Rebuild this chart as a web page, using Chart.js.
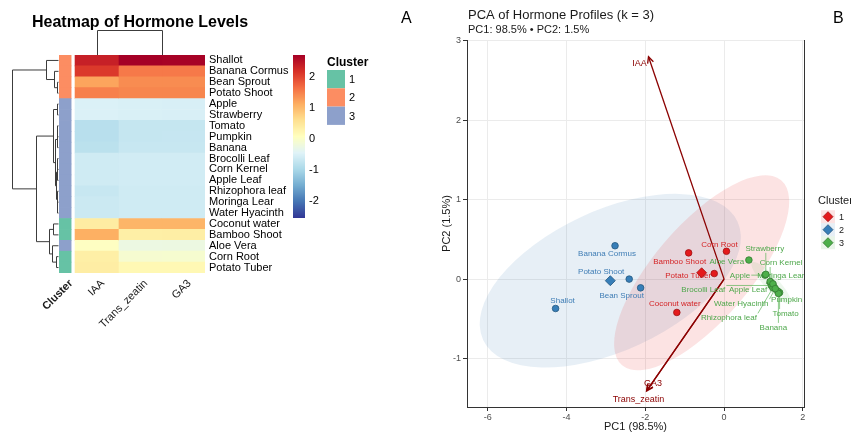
<!DOCTYPE html>
<html>
<head>
<meta charset="utf-8">
<script src="https://cdn.jsdelivr.net/npm/chart.js@4.4.1/dist/chart.umd.min.js"></script>
<style>
  html, body { margin: 0; padding: 0; background: #fff; }
  #wrap { position: relative; width: 851px; height: 434px; overflow: hidden; }
  .box { position: absolute; top: 0; height: 434px; }
</style>
</head>
<body>
<div id="wrap">
  <div class="box" style="left:0;width:400px"><canvas id="heat"></canvas></div>
  <div class="box" style="left:400px;width:451px"><canvas id="pca"></canvas></div>
</div>
<script>
// ---------- heatmap data (scaled hormone levels) ----------
const rowNames = ['Shallot', 'Banana Cormus', 'Bean Sprout', 'Potato Shoot', 'Apple', 'Strawberry',
  'Tomato', 'Pumpkin', 'Banana', 'Brocolli Leaf', 'Corn Kernel', 'Apple Leaf', 'Rhizophora leaf',
  'Moringa Lear', 'Water Hyacinth', 'Coconut water', 'Bamboo Shoot', 'Aloe Vera', 'Corn Root', 'Potato Tuber'];
const hormoneNames = ['IAA', 'Trans_zeatin', 'GA3'];
const iaa = [2.35, 2.1, 1.2, 1.5, -0.5, -0.5, -0.85, -0.85, -0.82, -0.62, -0.62, -0.62, -0.7, -0.66, -0.66,
  0.4, 1.1, 0.05, 0.35, 0.38];
const transZeatin = [2.7, 1.55, 1.4, 1.45, -0.52, -0.52, -0.72, -0.72, -0.7, -0.6, -0.6, -0.6, -0.62, -0.62, -0.62,
  1.05, 0.35, -0.25, -0.08, 0.2];
const ga3 = [2.68, 1.55, 1.4, 1.45, -0.53, -0.53, -0.72, -0.71, -0.7, -0.6, -0.6, -0.6, -0.62, -0.62, -0.62,
  1.05, 0.36, -0.24, -0.07, 0.2];
const rowCluster = [2, 2, 2, 2, 3, 3, 3, 3, 3, 3, 3, 3, 3, 3, 3, 1, 1, 3, 1, 1];
const colorbarTicks = [-2, -1, 0, 1, 2];
const colorRange = [-2.55, 2.7];
// hierarchical clustering merges: [left, right, height]; negative = leaf (1-based), positive = earlier merge
const rowMerges = [
  [-3, -4, 0.1], [-2, 1, 0.4], [-1, 2, 1.2],
  [-5, -6, 0.05], [-7, -8, 0.05], [5, -9, 0.1], [-10, -11, 0.03], [7, -12, 0.06],
  [-14, -15, 0.04], [-13, 9, 0.08], [8, 10, 0.15], [6, 11, 0.3], [4, 12, 0.5],
  [-16, -17, 0.5], [-19, -20, 0.2], [-18, 15, 0.6], [14, 16, 0.9],
  [13, 17, 2.2], [3, 18, 4.6]
];
const colMerges = [[-2, -3, 0.0], [-1, 1, 1.0]];

// ---------- PCA data ----------
const pcaNames = rowNames.slice();
const pc1 = [-4.28, -2.77, -2.12, -2.41, 1.04, 1.06, 1.41, 1.36, 1.38, 1.20, 1.17, 1.27, 1.24, 1.24, 1.30,
  -1.20, -0.90, 0.63, 0.06, -0.25];
const pc2 = [-0.37, 0.42, -0.11, 0.00, 0.05, 0.06, -0.17, -0.15, -0.18, -0.08, -0.03, -0.10, -0.11, -0.06, -0.12,
  -0.42, 0.33, 0.24, 0.35, 0.07];
const pcaCluster = [2, 2, 2, 2, 3, 3, 3, 3, 3, 3, 3, 3, 3, 3, 3, 1, 1, 3, 1, 1];
const clusterIds = [1, 2, 3];
const centroidPC1 = [-0.57, -2.89, 1.20];
const centroidPC2 = [0.08, -0.02, -0.05];
const loadingNames = ['IAA', 'Trans_zeatin', 'GA3'];
const loadingPC1 = [-1.92, -1.97, -1.96];
const loadingPC2 = [2.80, -1.41, -1.40];
const xTicks = [-6, -4, -2, 0, 2];
const yTicks = [-1, 0, 1, 2, 3];

// ---------- styling ----------
const FONT = '"Liberation Sans", Arial, Helvetica, sans-serif';
Chart.defaults.font.family = FONT;
const annotFill = { 1: '#66C2A5', 2: '#FC8D62', 3: '#8DA0CB' };
const rdylbu = ['#313695', '#4575B4', '#74ADD1', '#ABD9E9', '#E0F3F8', '#FFFFBF',
  '#FEE090', '#FDAE61', '#F46D43', '#D73027', '#A50026'];
const clusterColor = { 1: '#E41A1C', 2: '#377EB8', 3: '#4DAF4A' };
const clusterEdge = { 1: '#9E1214', 2: '#25587F', 3: '#337A31' };
const clusterLabel = { 1: '#D42426', 2: '#3F7DB5', 3: '#4FA84C' };
const annotSpan = [-0.37, -0.09];
// label nudges in pixels for the point labels (same order as pcaNames)
const labelNudgeX = [7, -8, -19, -28, -25, -1, 6, 9, -5, -68, 11, -26, -44, 8, -34, -2, -9, -22, -7, -26];
const labelNudgeY = [-8, 8, 8, -7, 1, -26, 21, 9, 34, 4, -19, 3, 30, -8, 15, -9, 9, 2, -7, 2];
const loadingNudgeX = [-9, -8, 6];
const loadingNudgeY = [7, 8, -7];
// concentration ellipses: centre plus two conjugate semi-axes, in PC units
const ellipses = {
  2: { c: [-2.89, -0.02], u: [3.23, 0.745], v: [0.753, -0.80] },
  1: { c: [-0.57, 0.08], u: [2.02, 1.165], v: [0.93, -0.39] },
  3: { c: [1.20, -0.05], u: [-0.49, 0.26], v: [0.13, 0.06] }
};

function hexToRgb(h) {
  return [parseInt(h.slice(1, 3), 16), parseInt(h.slice(3, 5), 16), parseInt(h.slice(5, 7), 16)];
}
function heatColor(v) {
  let t = (v - colorRange[0]) / (colorRange[1] - colorRange[0]);
  t = Math.max(0, Math.min(1, t)) * (rdylbu.length - 1);
  const i = Math.min(rdylbu.length - 2, Math.floor(t));
  const f = t - i;
  const a = hexToRgb(rdylbu[i]), b = hexToRgb(rdylbu[i + 1]);
  const c = a.map((x, k) => Math.round(x + (b[k] - x) * f));
  return `rgb(${c[0]},${c[1]},${c[2]})`;
}
function alpha(hex, a) {
  const c = hexToRgb(hex);
  return `rgba(${c[0]},${c[1]},${c[2]},${a})`;
}

function dendroNodes(merges, leafPos) {
  const nodes = [];
  const get = (k) => (k < 0 ? { p: leafPos(-k - 1), h: 0 } : nodes[k - 1]);
  merges.forEach(([a, b, h]) => {
    const A = get(a), B = get(b);
    nodes.push({ p: (A.p + B.p) / 2, h, A, B });
  });
  return nodes;
}
function drawDendro(ctx, nodes, toXY) {
  ctx.beginPath();
  nodes.forEach((n) => {
    const a0 = toXY(n.A.p, n.A.h), a1 = toXY(n.A.p, n.h);
    const b1 = toXY(n.B.p, n.h), b0 = toXY(n.B.p, n.B.h);
    ctx.moveTo(a0[0], a0[1]); ctx.lineTo(a1[0], a1[1]);
    ctx.lineTo(b1[0], b1[1]); ctx.lineTo(b0[0], b0[1]);
  });
  ctx.stroke();
}

// ---------- heatmap chart ----------
const heatValues = [iaa, transZeatin, ga3];
const heatDatasets = heatValues.map((vals, c) => ({
  label: hormoneNames[c],
  data: rowNames.map(() => [c, c + 1]),
  backgroundColor: vals.map(heatColor),
  borderWidth: 0,
  barPercentage: 1,
  categoryPercentage: 1,
  grouped: false
}));
heatDatasets.push({
  label: 'Cluster',
  data: rowNames.map(() => annotSpan.slice()),
  backgroundColor: rowCluster.map((k) => annotFill[k]),
  borderWidth: 0,
  barPercentage: 1,
  categoryPercentage: 1,
  grouped: false
});
const colTickValues = [(annotSpan[0] + annotSpan[1]) / 2, 0.5, 1.5, 2.5];
const colTickNames = ['Cluster'].concat(hormoneNames);

const heatExtras = {
  id: 'heatExtras',
  beforeDatasetsDraw(chart) {
    // dendrograms sit under the cells so zero-height joins vanish into the grid edge
    const ctx = chart.ctx, xs = chart.scales.x, ys = chart.scales.y;
    const top = chart.chartArea.top;
    ctx.save();
    ctx.strokeStyle = '#3c3c3c';
    ctx.lineWidth = 1;
    const rowNodes = dendroNodes(rowMerges, (i) => ys.getPixelForValue(i));
    const rowRight = xs.getPixelForValue(annotSpan[0]) - 1.5;
    const hScale = (rowRight - 12) / rowMerges[rowMerges.length - 1][2];
    drawDendro(ctx, rowNodes, (p, h) => [Math.round(rowRight - h * hScale) + 0.5, p]);
    const colNodes = dendroNodes(colMerges, (i) => xs.getPixelForValue(i + 0.5));
    const colBottom = top + 1;
    drawDendro(ctx, colNodes, (p, h) => [Math.round(p) + 0.5, Math.round(colBottom - h * 26) + 0.5]);
    ctx.restore();
  },
  afterDraw(chart) {
    const ctx = chart.ctx, xs = chart.scales.x;
    const top = chart.chartArea.top;
    ctx.save();
    // title
    ctx.fillStyle = '#000';
    ctx.font = `bold 16px ${FONT}`;
    ctx.textAlign = 'center';
    ctx.textBaseline = 'alphabetic';
    ctx.fillText('Heatmap of Hormone Levels', (xs.getPixelForValue(0) + xs.getPixelForValue(3)) / 2, 27);

    // colour key
    const cbL = 293, cbW = 12, cbT = top, cbB = 218;
    const vy = (v) => cbB - (v - colorRange[0]) / (colorRange[1] - colorRange[0]) * (cbB - cbT);
    for (let y = cbT; y < cbB; y++) {
      const v = colorRange[1] - (y + 0.5 - cbT) / (cbB - cbT) * (colorRange[1] - colorRange[0]);
      ctx.fillStyle = heatColor(v);
      ctx.fillRect(cbL, y, cbW, 1);
    }
    ctx.fillStyle = '#000';
    ctx.font = `11px ${FONT}`;
    ctx.textAlign = 'left';
    ctx.textBaseline = 'middle';
    colorbarTicks.forEach((t) => ctx.fillText(String(t), cbL + cbW + 4, vy(t)));

    // annotation legend
    ctx.font = `bold 12px ${FONT}`;
    ctx.textBaseline = 'alphabetic';
    ctx.fillText('Cluster', 327, 66);
    ctx.font = `11px ${FONT}`;
    ctx.textBaseline = 'middle';
    clusterIds.forEach((k, i) => {
      const y0 = 70 + i * 18.3;
      ctx.fillStyle = annotFill[k];
      ctx.fillRect(327, y0, 18, 18.3);
      ctx.fillStyle = '#000';
      ctx.fillText(String(k), 349, y0 + 10);
    });
    ctx.restore();
  }
};

new Chart(document.getElementById('heat'), {
  type: 'bar',
  data: { labels: rowNames, datasets: heatDatasets },
  options: {
    indexAxis: 'y',
    responsive: true,
    maintainAspectRatio: false,
    animation: false,
    layout: { padding: { left: 59, top: 55, right: 0, bottom: 0 } },
    plugins: { legend: { display: false }, tooltip: { enabled: false } },
    scales: {
      x: {
        type: 'linear', min: annotSpan[0], max: 3,
        grid: { display: false, drawTicks: false }, border: { display: false },
        afterBuildTicks: (s) => { s.ticks = colTickValues.map((v) => ({ value: v })); },
        afterFit: (s) => { s.height = 161; },
        ticks: {
          autoSkip: false, minRotation: 45, maxRotation: 45, padding: 4, labelOffset: 6,
          color: '#1a1a1a',
          font: (c) => ({ size: 11, weight: c.index === 0 ? 'bold' : 'normal' }),
          callback: (v, i) => colTickNames[i]
        }
      },
      y: {
        type: 'category', position: 'right',
        grid: { display: false, drawTicks: false }, border: { display: false },
        afterFit: (s) => { s.width = 195; },
        ticks: { color: '#000', font: { size: 11 }, padding: 4, autoSkip: false }
      }
    }
  },
  plugins: [heatExtras]
});

// ---------- PCA biplot ----------
const pointSets = clusterIds.map((k) => {
  const idx = pcaNames.map((_, i) => i).filter((i) => pcaCluster[i] === k);
  return {
    label: String(k),
    data: idx.map((i) => ({ x: pc1[i], y: pc2[i] })),
    backgroundColor: clusterColor[k],
    borderColor: clusterEdge[k],
    borderWidth: 0.8,
    pointRadius: 3.3,
    pointStyle: 'circle'
  };
});
const centroidSet = {
  label: 'centre',
  data: clusterIds.map((k, i) => ({ x: centroidPC1[i], y: centroidPC2[i] })),
  backgroundColor: clusterIds.map((k) => clusterColor[k]),
  borderColor: clusterIds.map((k) => clusterEdge[k]),
  borderWidth: 0.8,
  pointRadius: 5,
  pointStyle: 'rectRot'
};

function arrowHead(ctx, x0, y0, x1, y1, len) {
  const a = Math.atan2(y1 - y0, x1 - x0);
  ctx.beginPath();
  ctx.moveTo(x1 - len * Math.cos(a - 0.45), y1 - len * Math.sin(a - 0.45));
  ctx.lineTo(x1, y1);
  ctx.lineTo(x1 - len * Math.cos(a + 0.45), y1 - len * Math.sin(a + 0.45));
  ctx.stroke();
}

const pcaLayers = {
  id: 'pcaLayers',
  beforeDatasetsDraw(chart) {
    const ctx = chart.ctx, xs = chart.scales.x, ys = chart.scales.y, ca = chart.chartArea;
    const px = (x) => xs.getPixelForValue(x), py = (y) => ys.getPixelForValue(y);
    ctx.save();
    ctx.beginPath();
    ctx.rect(ca.left, ca.top, ca.right - ca.left, ca.bottom - ca.top);
    ctx.clip();
    // ellipses
    [2, 1, 3].forEach((k) => {
      const e = ellipses[k];
      const cx = px(e.c[0]), cy = py(e.c[1]);
      const ux = px(e.c[0] + e.u[0]) - cx, uy = py(e.c[1] + e.u[1]) - cy;
      const vx = px(e.c[0] + e.v[0]) - cx, vy = py(e.c[1] + e.v[1]) - cy;
      ctx.save();
      ctx.transform(ux, uy, vx, vy, cx, cy);
      ctx.beginPath();
      ctx.arc(0, 0, 1, 0, Math.PI * 2);
      ctx.restore();
      ctx.fillStyle = alpha(clusterColor[k], k === 3 ? 0.1 : 0.12);
      ctx.fill();
    });
    // variable loadings
    ctx.strokeStyle = '#8B0000';
    ctx.lineWidth = 1.3;
    const ox = px(0), oy = py(0);
    loadingNames.forEach((n, i) => {
      const tx = px(loadingPC1[i]), ty = py(loadingPC2[i]);
      ctx.beginPath(); ctx.moveTo(ox, oy); ctx.lineTo(tx, ty); ctx.stroke();
      arrowHead(ctx, ox, oy, tx, ty, 7);
    });
    ctx.fillStyle = '#8B0000';
    ctx.font = `9px ${FONT}`;
    ctx.textAlign = 'center';
    ctx.textBaseline = 'middle';
    loadingNames.forEach((n, i) => {
      ctx.fillText(n, px(loadingPC1[i]) + loadingNudgeX[i], py(loadingPC2[i]) + loadingNudgeY[i]);
    });
    // point labels with leader segments
    ctx.font = `8px ${FONT}`;
    pcaNames.forEach((n, i) => {
      const k = pcaCluster[i];
      const x = px(pc1[i]), y = py(pc2[i]);
      const lx = x + labelNudgeX[i], ly = y + labelNudgeY[i];
      const hw = ctx.measureText(n).width / 2 + 1, hh = 4.5;
      const qx = Math.max(lx - hw, Math.min(x, lx + hw));
      const qy = Math.max(ly - hh, Math.min(y, ly + hh));
      const gap = Math.hypot(qx - x, qy - y);
      if (gap > 7) {
        ctx.strokeStyle = alpha(clusterColor[k], 0.8);
        ctx.lineWidth = 0.8;
        ctx.beginPath(); ctx.moveTo(x, y); ctx.lineTo(qx, qy); ctx.stroke();
      }
      ctx.fillStyle = clusterLabel[k];
      ctx.fillText(n, lx, ly);
    });
    ctx.restore();
  },
  afterDraw(chart) {
    const ctx = chart.ctx, ca = chart.chartArea;
    ctx.save();
    // right panel border
    ctx.strokeStyle = '#333';
    ctx.lineWidth = 1;
    ctx.beginPath();
    ctx.moveTo(Math.round(ca.right) + 0.5, ca.top);
    ctx.lineTo(Math.round(ca.right) + 0.5, ca.bottom);
    ctx.stroke();
    // panel letters and headings
    ctx.fillStyle = '#000';
    ctx.textBaseline = 'alphabetic';
    ctx.textAlign = 'left';
    ctx.font = `16px ${FONT}`;
    ctx.fillText('A', 1, 23);
    ctx.fillText('B', 433, 23);
    ctx.fillStyle = '#1a1a1a';
    ctx.font = `13px ${FONT}`;
    ctx.fillText('PCA of Hormone Profiles (k = 3)', 68, 19);
    ctx.font = `11px ${FONT}`;
    ctx.fillText('PC1: 98.5% \u2022 PC2: 1.5%', 68, 33);
    // cluster legend
    ctx.font = `11px ${FONT}`;
    ctx.fillStyle = '#1a1a1a';
    ctx.fillText('Cluster', 418, 204);
    ctx.textBaseline = 'middle';
    clusterIds.forEach((k, i) => {
      const cy = 216.7 + i * 13;
      ctx.fillStyle = alpha(clusterColor[k], 0.12);
      ctx.fillRect(421, cy - 6.5, 14, 13);
      ctx.fillStyle = clusterColor[k];
      ctx.strokeStyle = clusterEdge[k];
      ctx.lineWidth = 0.8;
      ctx.beginPath();
      ctx.moveTo(428, cy - 5); ctx.lineTo(433, cy); ctx.lineTo(428, cy + 5); ctx.lineTo(423, cy);
      ctx.closePath(); ctx.fill(); ctx.stroke();
      ctx.fillStyle = '#1a1a1a';
      ctx.font = `9px ${FONT}`;
      ctx.fillText(String(k), 439, cy + 0.5);
    });
    ctx.restore();
  }
};

new Chart(document.getElementById('pca'), {
  type: 'scatter',
  data: { datasets: pointSets.concat([centroidSet]) },
  options: {
    responsive: true,
    maintainAspectRatio: false,
    animation: false,
    layout: { padding: { left: 0, top: 40, right: 47, bottom: 0 } },
    plugins: { legend: { display: false }, tooltip: { enabled: false } },
    scales: {
      x: {
        type: 'linear', min: -6.53, max: 2.03,
        afterBuildTicks: (s) => { s.ticks = xTicks.map((v) => ({ value: v })); },
        afterFit: (s) => { s.height = 27; },
        grid: { color: '#EBEBEB', lineWidth: 1, tickColor: '#333', tickLength: 4 },
        border: { color: '#333', width: 1 },
        ticks: { color: '#4D4D4D', font: { size: 9 }, padding: 1 },
        title: { display: true, text: 'PC1 (98.5%)', color: '#1a1a1a', font: { size: 11 }, padding: 0 }
      },
      y: {
        type: 'linear', min: -1.61, max: 3.01,
        afterBuildTicks: (s) => { s.ticks = yTicks.map((v) => ({ value: v })); },
        afterFit: (s) => { s.width = 67; },
        grid: { color: '#EBEBEB', lineWidth: 1, tickColor: '#333', tickLength: 4 },
        border: { color: '#333', width: 1 },
        ticks: { color: '#4D4D4D', font: { size: 9 }, padding: 2 },
        title: { display: true, text: 'PC2 (1.5%)', color: '#1a1a1a', font: { size: 11 }, padding: { top: 40, bottom: 0 } }
      }
    }
  },
  plugins: [pcaLayers]
});
</script>
</body>
</html>
